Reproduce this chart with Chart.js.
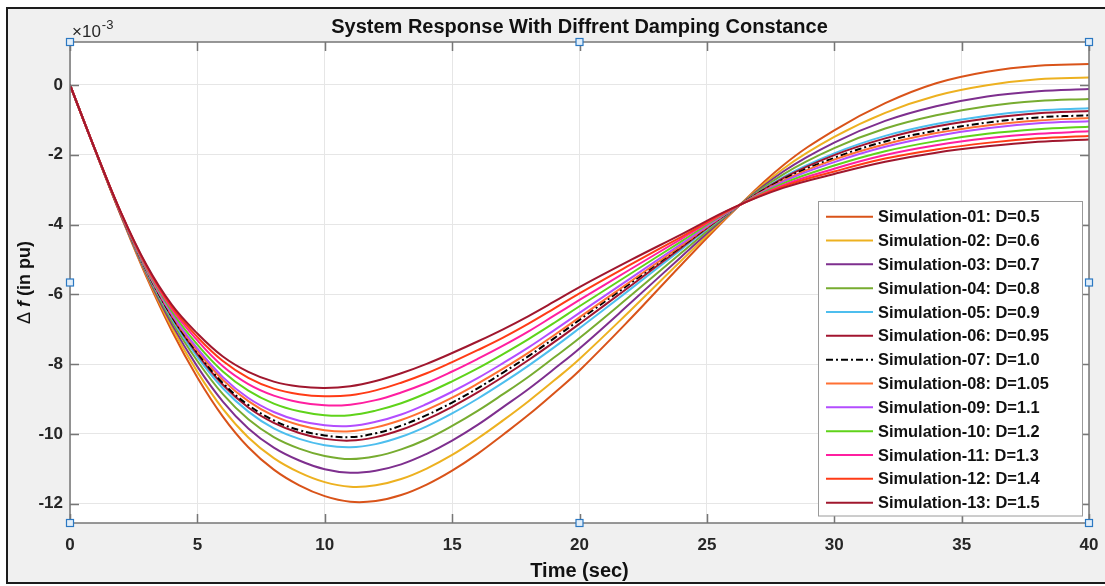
<!DOCTYPE html>
<html>
<head>
<meta charset="utf-8">
<script src="https://cdn.jsdelivr.net/npm/chart.js@4.4.1/dist/chart.umd.min.js"></script>
<style>
  html, body { margin: 0; padding: 0; background: #ffffff; }
  #wrap { width: 1105px; height: 586px; position: relative; }
</style>
</head>
<body>
<div id="wrap"><canvas id="c" width="1105" height="586"></canvas></div>
<script>
// Time base (s) shared by every simulation run
const timeSec = [0,1,2,3,4,5,6,7,8,9,10,11,12,13,14,15,16,17,18,19,20,22,24,26,28,30,32,34,36,38,40];

// Frequency deviation (x1e-3 pu) for each damping constant
const sim01 = [0,-1.90,-3.75,-5.50,-7.05,-8.38,-9.50,-10.38,-11.02,-11.47,-11.78,-11.94,-11.92,-11.75,-11.45,-11.05,-10.57,-10.02,-9.45,-8.83,-8.18,-6.70,-5.15,-3.65,-2.30,-1.30,-0.52,0.05,0.38,0.55,0.60];
const sim02 = [0,-1.90,-3.74,-5.45,-6.95,-8.22,-9.28,-10.10,-10.69,-11.10,-11.38,-11.51,-11.47,-11.29,-10.99,-10.60,-10.13,-9.61,-9.06,-8.47,-7.85,-6.46,-5.03,-3.63,-2.40,-1.49,-0.80,-0.31,-0.01,0.16,0.21];
const sim03 = [0,-1.89,-3.73,-5.41,-6.86,-8.07,-9.07,-9.84,-10.39,-10.76,-11.01,-11.11,-11.05,-10.87,-10.57,-10.19,-9.74,-9.23,-8.71,-8.14,-7.55,-6.25,-4.92,-3.62,-2.48,-1.65,-1.03,-0.61,-0.33,-0.18,-0.12];
const sim04 = [0,-1.89,-3.71,-5.37,-6.77,-7.91,-8.86,-9.58,-10.09,-10.42,-10.63,-10.72,-10.64,-10.44,-10.15,-9.77,-9.34,-8.86,-8.36,-7.81,-7.25,-6.04,-4.81,-3.60,-2.56,-1.81,-1.25,-0.87,-0.61,-0.46,-0.40];
const sim05 = [0,-1.89,-3.70,-5.34,-6.70,-7.79,-8.69,-9.36,-9.84,-10.14,-10.32,-10.38,-10.29,-10.08,-9.78,-9.41,-8.99,-8.53,-8.04,-7.52,-6.97,-5.85,-4.71,-3.59,-2.64,-1.96,-1.46,-1.12,-0.88,-0.73,-0.67];
const sim06 = [0,-1.89,-3.70,-5.31,-6.65,-7.71,-8.59,-9.24,-9.68,-9.97,-10.14,-10.19,-10.09,-9.88,-9.58,-9.22,-8.81,-8.36,-7.88,-7.37,-6.84,-5.76,-4.66,-3.58,-2.67,-2.01,-1.53,-1.19,-0.96,-0.81,-0.75];
const sim07 = [0,-1.89,-3.69,-5.30,-6.63,-7.67,-8.54,-9.17,-9.61,-9.89,-10.04,-10.09,-9.98,-9.76,-9.46,-9.10,-8.69,-8.24,-7.77,-7.26,-6.73,-5.68,-4.62,-3.58,-2.71,-2.09,-1.62,-1.31,-1.08,-0.93,-0.87];
const sim08 = [0,-1.89,-3.69,-5.29,-6.59,-7.61,-8.45,-9.06,-9.48,-9.74,-9.89,-9.92,-9.81,-9.60,-9.31,-8.96,-8.56,-8.13,-7.67,-7.17,-6.66,-5.63,-4.60,-3.57,-2.74,-2.14,-1.70,-1.38,-1.16,-1.02,-0.95];
const sim09 = [0,-1.89,-3.68,-5.27,-6.56,-7.55,-8.37,-8.97,-9.37,-9.62,-9.75,-9.77,-9.65,-9.44,-9.14,-8.79,-8.40,-7.97,-7.52,-7.03,-6.53,-5.54,-4.55,-3.57,-2.77,-2.21,-1.77,-1.46,-1.24,-1.10,-1.04];
const sim10 = [0,-1.88,-3.67,-5.24,-6.49,-7.44,-8.21,-8.76,-9.13,-9.35,-9.46,-9.46,-9.33,-9.12,-8.83,-8.49,-8.12,-7.71,-7.28,-6.82,-6.34,-5.41,-4.48,-3.56,-2.82,-2.31,-1.90,-1.61,-1.40,-1.27,-1.20];
const sim11 = [0,-1.88,-3.67,-5.21,-6.42,-7.32,-8.06,-8.57,-8.90,-9.09,-9.18,-9.16,-9.03,-8.81,-8.54,-8.21,-7.85,-7.47,-7.06,-6.61,-6.16,-5.28,-4.41,-3.55,-2.87,-2.40,-2.01,-1.73,-1.53,-1.40,-1.33];
const sim12 = [0,-1.88,-3.66,-5.18,-6.36,-7.22,-7.91,-8.39,-8.70,-8.86,-8.92,-8.89,-8.75,-8.53,-8.26,-7.94,-7.60,-7.24,-6.84,-6.41,-5.97,-5.15,-4.35,-3.54,-2.91,-2.48,-2.11,-1.85,-1.66,-1.53,-1.46];
const sim13 = [0,-1.88,-3.65,-5.15,-6.30,-7.12,-7.78,-8.22,-8.50,-8.64,-8.68,-8.63,-8.48,-8.26,-7.99,-7.68,-7.35,-7.00,-6.62,-6.21,-5.79,-5.02,-4.28,-3.53,-2.95,-2.55,-2.20,-1.94,-1.76,-1.63,-1.56];

const runNames = ['Simulation-01: D=0.5','Simulation-02: D=0.6','Simulation-03: D=0.7','Simulation-04: D=0.8',
  'Simulation-05: D=0.9','Simulation-06: D=0.95','Simulation-07: D=1.0','Simulation-08: D=1.05',
  'Simulation-09: D=1.1','Simulation-10: D=1.2','Simulation-11: D=1.3','Simulation-12: D=1.4','Simulation-13: D=1.5'];
const runSeries = [sim01,sim02,sim03,sim04,sim05,sim06,sim07,sim08,sim09,sim10,sim11,sim12,sim13];
const runColors = ['#D95319','#EDB120','#7E2F8E','#77AC30','#4DBEEE','#A2142F','#000000',
  '#FF7033','#B34DFF','#5FD31A','#FF1FA0','#FF3B16','#A0172E'];

const xTickValues = [0,5,10,15,20,25,30,35,40];
const yTickValues = [-12,-10,-8,-6,-4,-2,0];

const chartTitle = 'System Response With Diffrent Damping Constance';
const xAxisTitle = 'Time (sec)';

const FONT = '"Liberation Sans", Arial, Helvetica, sans-serif';

const datasets = runSeries.map((vals, i) => ({
  label: runNames[i],
  data: vals.map((v, k) => ({ x: timeSec[k], y: v })),
  borderColor: runColors[i],
  backgroundColor: runColors[i],
  borderWidth: 2,
  borderDash: i === 6 ? [7, 3, 2, 3] : [],
  pointRadius: 0,
  tension: 0.4,
  fill: false,
  order: runSeries.length - i   // later runs are painted over earlier ones
}));

const figureDecor = {
  id: 'figureDecor',
  beforeDraw(chart) {
    const ctx = chart.ctx, W = chart.width, H = chart.height, a = chart.chartArea;
    ctx.save();
    ctx.fillStyle = '#ffffff';
    ctx.fillRect(0, 0, W, H);
    ctx.fillStyle = '#f0f0f0';
    ctx.fillRect(7, 8, W, 575);
    ctx.strokeStyle = '#1c1c1c';
    ctx.lineWidth = 2;
    ctx.strokeRect(7, 8, W + 20, 575);
    ctx.fillStyle = '#ffffff';
    ctx.fillRect(a.left, a.top, a.right - a.left, a.bottom - a.top);
    ctx.restore();
  },
  afterDatasetsDraw(chart) {
    const ctx = chart.ctx, a = chart.chartArea;
    const xs = chart.scales.x, ys = chart.scales.y;
    ctx.save();
    // axes box
    ctx.strokeStyle = '#767676';
    ctx.lineWidth = 1.5;
    ctx.strokeRect(a.left, a.top, a.right - a.left, a.bottom - a.top);
    // inward tick marks on all four sides
    ctx.beginPath();
    const tl = 9;
    xTickValues.forEach(v => {
      const px = Math.round(xs.getPixelForValue(v)) + 0.5;
      ctx.moveTo(px, a.bottom); ctx.lineTo(px, a.bottom - tl);
      ctx.moveTo(px, a.top); ctx.lineTo(px, a.top + tl);
    });
    yTickValues.forEach(v => {
      const py = Math.round(ys.getPixelForValue(v)) + 0.5;
      ctx.moveTo(a.left, py); ctx.lineTo(a.left + tl, py);
      ctx.moveTo(a.right, py); ctx.lineTo(a.right - tl, py);
    });
    ctx.stroke();

    // legend box
    const lx = 818.5, ly = 201.5, lw = 264, lh = 314.5;
    ctx.fillStyle = '#ffffff';
    ctx.fillRect(lx, ly, lw, lh);
    ctx.strokeStyle = '#9a9a9a';
    ctx.lineWidth = 1;
    ctx.strokeRect(lx, ly, lw, lh);
    ctx.font = 'bold 16.4px ' + FONT;
    ctx.textBaseline = 'middle';
    ctx.textAlign = 'left';
    chart.data.datasets.forEach((ds, i) => {
      const yy = 216.7 + i * 23.83;
      ctx.strokeStyle = ds.borderColor;
      ctx.lineWidth = 2;
      ctx.setLineDash(ds.borderDash || []);
      ctx.beginPath();
      ctx.moveTo(826, yy); ctx.lineTo(873, yy);
      ctx.stroke();
      ctx.setLineDash([]);
      ctx.fillStyle = '#111111';
      ctx.fillText(ds.label, 878, yy + 1);
    });

    // selection handles around the axes
    const hx = [a.left, (a.left + a.right) / 2, a.right];
    const hy = [a.top, (a.top + a.bottom) / 2, a.bottom];
    ctx.lineWidth = 1.2;
    ctx.strokeStyle = '#2b78c2';
    ctx.fillStyle = '#e2eef9';
    hx.forEach((x, i) => hy.forEach((y, j) => {
      if (i === 1 && j === 1) return;
      ctx.fillRect(x - 3.5, y - 3.5, 7, 7);
      ctx.strokeRect(x - 3.5, y - 3.5, 7, 7);
    }));
    ctx.restore();
  },
  afterDraw(chart) {
    const ctx = chart.ctx, a = chart.chartArea;
    const cx = (a.left + a.right) / 2;
    ctx.save();
    ctx.fillStyle = '#111111';
    ctx.textBaseline = 'alphabetic';
    // title
    ctx.textAlign = 'center';
    ctx.font = 'bold 20px ' + FONT;
    ctx.fillText(chartTitle, cx, 33);
    // exponent marker
    ctx.textAlign = 'left';
    ctx.fillStyle = '#262626';
    ctx.font = '17px ' + FONT;
    ctx.fillText('\u00d710', 72, 37);
    const w10 = ctx.measureText('\u00d710').width;
    ctx.font = '13px ' + FONT;
    ctx.fillText('-3', 72 + w10 + 1, 29);
    // x axis title
    ctx.fillStyle = '#111111';
    ctx.textAlign = 'center';
    ctx.font = 'bold 20px ' + FONT;
    ctx.fillText(xAxisTitle, cx, 577);
    // y axis title: Δf (in pu)
    ctx.translate(30, (a.top + a.bottom) / 2);
    ctx.rotate(-Math.PI / 2);
    const parts = [
      { t: '\u0394 ', f: '18px ' + FONT },
      { t: 'f', f: 'italic bold 18px ' + FONT },
      { t: ' (in pu)', f: 'bold 18px ' + FONT }
    ];
    let total = 0;
    parts.forEach(p => { ctx.font = p.f; p.w = ctx.measureText(p.t).width; total += p.w; });
    let x0 = -total / 2;
    ctx.textAlign = 'left';
    parts.forEach(p => { ctx.font = p.f; ctx.fillText(p.t, x0, 0); x0 += p.w; });
    ctx.restore();
  }
};

new Chart(document.getElementById('c'), {
  type: 'line',
  data: { datasets },
  options: {
    responsive: false,
    devicePixelRatio: 1,
    animation: false,
    layout: { padding: { top: 42, right: 16, left: 0, bottom: 0 } },
    plugins: {
      legend: { display: false },
      tooltip: { enabled: false },
      title: { display: false }
    },
    scales: {
      x: {
        type: 'linear', min: 0, max: 40,
        afterBuildTicks: s => { s.ticks = xTickValues.map(v => ({ value: v })); },
        afterFit: s => { s.height = 63; s.paddingLeft = 0; s.paddingRight = 0; },
        grid: { color: '#e6e6e6', lineWidth: 1, drawTicks: false },
        border: { display: false },
        ticks: { font: { family: FONT, size: 17, weight: 'bold' }, color: '#262626', padding: 12, maxRotation: 0, autoSkip: false }
      },
      y: {
        type: 'linear', min: -12.55, max: 1.23,
        afterBuildTicks: s => { s.ticks = yTickValues.map(v => ({ value: v })); },
        afterFit: s => { s.width = 70; s.paddingTop = 0; s.paddingBottom = 0; },
        grid: { color: '#e6e6e6', lineWidth: 1, drawTicks: false },
        border: { display: false },
        ticks: { font: { family: FONT, size: 17, weight: 'bold' }, color: '#262626', padding: 7, autoSkip: false }
      }
    }
  },
  plugins: [figureDecor]
});
</script>
</body>
</html>
